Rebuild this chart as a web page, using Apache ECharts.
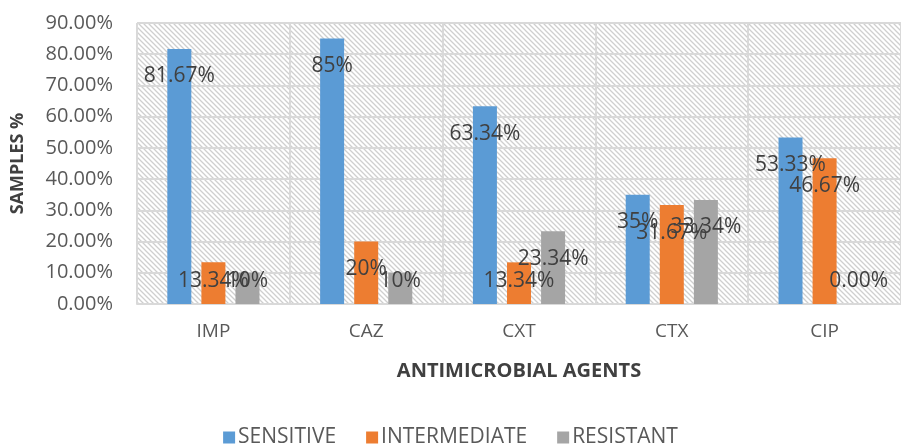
<!DOCTYPE html>
<html>
<head>
<meta charset="utf-8">
<script src="https://cdn.jsdelivr.net/npm/echarts@6/dist/echarts.min.js"></script>
<style>
  html, body { margin: 0; padding: 0; background: #fff; }
  #main { width: 901px; height: 444px; }
</style>
</head>
<body>
<div id="main"></div>
<script>
// chart data
const categories = ['IMP', 'CAZ', 'CXT', 'CTX', 'CIP'];
const seriesNames = ['SENSITIVE', 'INTERMEDIATE', 'RESISTANT'];
const sensitive = [81.67, 85, 63.34, 35, 53.33];
const intermediate = [13.34, 20, 13.34, 31.67, 46.67];
const resistant = [10, 10, 23.34, 33.34, 0];
const yTicks = [0, 10, 20, 30, 40, 50, 60, 70, 80, 90];

const colors = ['#5B9BD5', '#ED7D31', '#A5A5A5'];

// diagonal hatch for the plot background
function makeHatch() {
    const s = 5;
    const c = document.createElement('canvas');
    c.width = s; c.height = s;
    const ctx = c.getContext('2d');
    ctx.fillStyle = '#ffffff';
    ctx.fillRect(0, 0, s, s);
    ctx.strokeStyle = '#cfcfcf';
    ctx.lineWidth = 1.3;
    ctx.beginPath();
    ctx.moveTo(-1, -1); ctx.lineTo(s + 1, s + 1);
    ctx.moveTo(-1, s - 1); ctx.lineTo(1, s + 1);
    ctx.moveTo(s - 1, -1); ctx.lineTo(s + 1, 1);
    ctx.stroke();
    return c;
}

function fmtLabel(p) {
    return p.value === 0 ? '0.00%' : p.value + '%';
}

// small bars get their label near the axis, the rest just under the top
function toItems(values) {
    return values.map(v => ({
        value: v,
        label: v < 15
            ? { position: 'insideBottom', distance: 12 }
            : { position: 'insideTop', distance: 17 }
    }));
}

const chart = echarts.init(document.getElementById('main'), null, { renderer: 'canvas' });

const allData = [sensitive, intermediate, resistant];

const option = {
    animation: false,
    color: colors,
    textStyle: { fontFamily: 'Open Sans' },
    grid: {
        left: 137,
        top: 23,
        width: 776,
        height: 281,
        show: true,
        borderWidth: 0,
        backgroundColor: { image: makeHatch(), repeat: 'repeat' }
    },
    legend: {
        data: seriesNames,
        left: 'center',
        top: 422,
        itemWidth: 12,
        itemHeight: 12,
        itemGap: 30,
        icon: 'rect',
        textStyle: { color: '#595959', fontSize: 21, padding: [0, 0, 0, -2] }
    },
    xAxis: {
        type: 'category',
        data: categories,
        name: 'ANTIMICROBIAL AGENTS',
        nameLocation: 'middle',
        nameGap: 57,
        nameTextStyle: { color: '#404040', fontSize: 20, fontWeight: 'bold' },
        axisLine: { lineStyle: { color: '#d9d9d9', width: 2 } },
        axisTick: { show: false },
        axisLabel: { color: '#595959', fontSize: 19, margin: 18 },
        splitLine: { show: true, lineStyle: { color: '#d9d9d9', width: 2 } }
    },
    yAxis: {
        type: 'value',
        min: yTicks[0],
        max: yTicks[yTicks.length - 1],
        interval: 10,
        name: 'SAMPLES %',
        nameLocation: 'middle',
        nameGap: 110,
        nameRotate: 90,
        nameTextStyle: { color: '#404040', fontSize: 18, fontWeight: 'bold' },
        axisLine: { show: false },
        axisTick: { show: false },
        axisLabel: {
            color: '#595959',
            fontSize: 20,
            margin: 24,
            formatter: v => v.toFixed(2) + '%'
        },
        splitLine: { lineStyle: { color: '#d9d9d9', width: 2 } }
    },
    series: seriesNames.map((name, i) => ({
        name: name,
        type: 'bar',
        data: toItems(allData[i]),
        barWidth: 24,
        barGap: '42%',
        label: {
            show: true,
            color: '#404040',
            fontSize: 21,
            formatter: fmtLabel
        }
    }))
};

chart.setOption(option);
</script>
</body>
</html>
